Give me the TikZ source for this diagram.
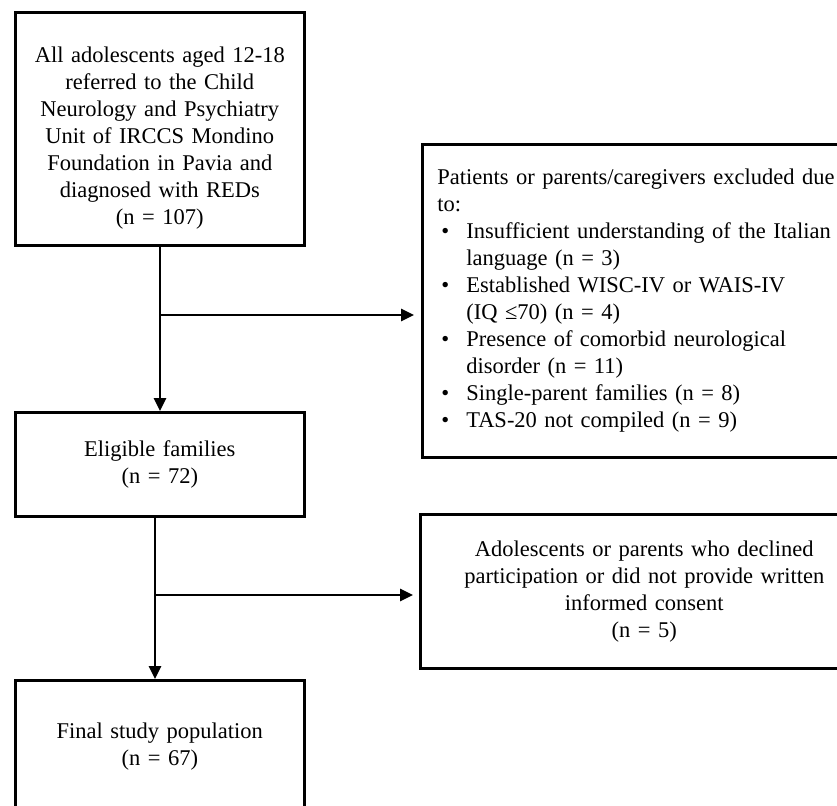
\documentclass[tikz,border=0pt]{standalone}
\usepackage{fontspec}
\setmainfont{Liberation Serif}
\usetikzlibrary{arrows.meta}
\begin{document}
\begin{tikzpicture}[x=1pt,y=-1pt,
  box/.style={draw, line width=2.6pt, rectangle, inner sep=0pt, anchor=north west,
    font=\fontsize{22.5}{27}\selectfont},
  arr/.style={line width=2.6pt, -{Triangle[length=13pt,width=12pt]}}]
\useasboundingbox (0,0) rectangle (837,805);
\clip (0,0) rectangle (837,805);
\node[box, minimum width=289pt, minimum height=233pt, align=center, text width=280pt] (b1) at (14,11)
  {\rule{0pt}{34pt}All adolescents aged 12-18\\ referred to the Child\\ Neurology and Psychiatry\\ Unit of IRCCS Mondino\\ Foundation in Pavia and\\ diagnosed with REDs\\ (n = 107)};
\node[box, minimum width=440pt, minimum height=313pt, align=left, text width=410pt] (b2) at (421,143)
  {Patients or parents/caregivers excluded due\\
   to:\\
   \hspace*{4pt}\makebox[25pt][l]{•}Insufficient understanding of the Italian\\
   \hspace*{29pt}language (n = 3)\\
   \hspace*{4pt}\makebox[25pt][l]{•}Established WISC-IV or WAIS-IV\\
   \hspace*{29pt}(IQ ≤70) (n = 4)\\
   \hspace*{4pt}\makebox[25pt][l]{•}Presence of comorbid neurological\\
   \hspace*{29pt}disorder (n = 11)\\
   \hspace*{4pt}\makebox[25pt][l]{•}Single-parent families (n = 8)\\
   \hspace*{4pt}\makebox[25pt][l]{•}TAS-20 not compiled (n = 9)};
\node[box, minimum width=289pt, minimum height=104pt, align=center, text width=280pt] (b3) at (14,411)
  {Eligible families\\ (n = 72)};
\node[box, minimum width=448pt, minimum height=154pt, align=center, text width=400pt] (b4) at (419,513)
  {Adolescents or parents who declined\\ participation or did not provide written\\ informed consent\\ (n = 5)};
\node[box, minimum width=289pt, minimum height=132pt, align=center, text width=280pt] (b5) at (14,679)
  {Final study population\\ (n = 67)};
\coordinate (j1) at (160,315);
\coordinate (j2) at (155,595);
\draw[arr] (b1.south -| j1) -- (b3.north -| j1);
\draw[arr, shorten >=7pt] (j1) -- (j1 -| b2.west);
\draw[arr] (b3.south -| j2) -- (b5.north -| j2);
\draw[arr, shorten >=6pt] (j2) -- (j2 -| b4.west);
\end{tikzpicture}
\end{document}
